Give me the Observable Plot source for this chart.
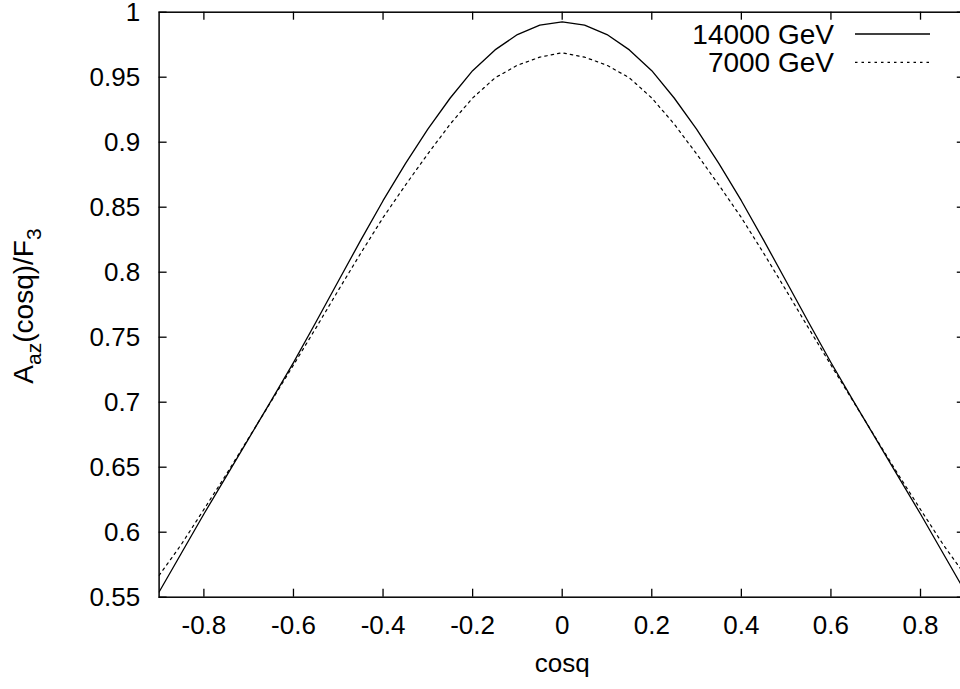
<!DOCTYPE html>
<html>
<head>
<meta charset="utf-8">
<script src="https://cdn.jsdelivr.net/npm/d3@7"></script>
<script src="https://cdn.jsdelivr.net/npm/@observablehq/plot@0.6"></script>
<style>
  html, body { margin: 0; padding: 0; background: #ffffff; }
  #chart svg { display: block; }
</style>
</head>
<body>
<div id="chart"></div>
<script>
// ---- data ----
const cosTheta = [-0.9,-0.85,-0.8,-0.75,-0.7,-0.65,-0.6,-0.55,-0.5,-0.45,-0.4,-0.35,-0.3,-0.25,-0.2,-0.15,-0.1,-0.05,
                  0,0.05,0.1,0.15,0.2,0.25,0.3,0.35,0.4,0.45,0.5,0.55,0.6,0.65,0.7,0.75,0.8,0.85,0.9];
const a14000 = [0.554,0.584,0.614,0.643,0.672,0.701,0.7305,0.7615,0.793,0.8245,0.855,0.8835,0.910,0.934,0.955,0.971,0.9828,0.990,
                0.9926,0.990,0.9828,0.971,0.955,0.934,0.910,0.8835,0.855,0.8245,0.793,0.7615,0.7305,0.701,0.672,0.643,0.614,0.584,0.554];
const a7000  = [0.5667,0.5908,0.6175,0.6445,0.6725,0.7005,0.7286,0.757,0.786,0.8145,0.842,0.867,0.891,0.914,0.934,0.9495,0.9592,0.9654,
                0.9688,0.9654,0.9592,0.9495,0.934,0.914,0.891,0.867,0.842,0.8145,0.786,0.757,0.7286,0.7005,0.6725,0.6445,0.6175,0.5908,0.5667];
const seriesNames = ["14000 GeV", "7000 GeV"];
const xTicks = [-0.8,-0.6,-0.4,-0.2,0,0.2,0.4,0.6,0.8];
const xTickLabels = ["-0.8","-0.6","-0.4","-0.2","0","0.2","0.4","0.6","0.8"];
const yTicks = [0.55,0.6,0.65,0.7,0.75,0.8,0.85,0.9,0.95,1];
const yTickLabels = ["0.55","0.6","0.65","0.7","0.75","0.8","0.85","0.9","0.95","1"];
const xLabel = "cosq";
const yLabelParts = [["A",""],["az","sub"],["(cosq)/F",""],["3","sub"]];

// ---- build table ----
const rows = [];
cosTheta.forEach((c, i) => {
  rows.push({x: c, y: a14000[i], s: seriesNames[0]});
  rows.push({x: c, y: a7000[i], s: seriesNames[1]});
});
const xFmt = new Map(xTicks.map((t, i) => [t, xTickLabels[i]]));
const yFmt = new Map(yTicks.map((t, i) => [t, yTickLabels[i]]));

const W = 960, H = 689;
const mL = 158.6, mR = -4.8, mT = 11.7, mB = 92.3;
const frameH = H - mT - mB, frameW = W - mL - mR;
const tickLen = 8;
const font = "'Liberation Sans', Arial, Helvetica, sans-serif";

const plot = Plot.plot({
  width: W,
  height: H,
  marginLeft: mL,
  marginRight: mR,
  marginTop: mT,
  marginBottom: mB,
  style: {fontFamily: font, fontSize: "26px", color: "black", background: "white"},
  x: {domain: [-0.9, 0.9]},
  y: {domain: [0.55, 1]},
  marks: [
    Plot.axisX(xTicks, {anchor: "bottom", tickSize: 0, tickPadding: 18, tickFormat: d => xFmt.get(d), label: null, fontSize: 26}),
    Plot.axisY(yTicks, {anchor: "left", tickSize: 0, tickPadding: 19, tickFormat: d => yFmt.get(d), label: null, fontSize: 26}),
    // inward ticks (bottom, top, left, right)
    Plot.tickX(xTicks, {x: d => d, insetTop: frameH - tickLen, stroke: "black", strokeWidth: 1.3}),
    Plot.tickX(xTicks, {x: d => d, insetBottom: frameH - tickLen, stroke: "black", strokeWidth: 1.3}),
    Plot.tickY(yTicks, {y: d => d, insetRight: frameW - tickLen, stroke: "black", strokeWidth: 1.3}),
    Plot.tickY(yTicks, {y: d => d, insetLeft: frameW - tickLen, stroke: "black", strokeWidth: 1.3}),
    Plot.line(rows.filter(d => d.s === seriesNames[0]), {x: "x", y: "y", stroke: "black", strokeWidth: 1.3, clip: true}),
    Plot.line(rows.filter(d => d.s === seriesNames[1]), {x: "x", y: "y", stroke: "black", strokeWidth: 1.2, strokeDasharray: "2.5,4", clip: true}),
    Plot.text([xLabel], {frameAnchor: "bottom", dy: 75, text: d => d, fontSize: 26}),
    Plot.frame({stroke: "black", strokeWidth: 1.5})
  ]
});

const svg = d3.select(plot);

// y-axis label with subscripts
const yl = svg.append("text")
  .attr("transform", `translate(33,306) rotate(-90)`)
  .attr("text-anchor", "middle")
  .attr("font-family", font)
  .attr("font-size", 28)
  .attr("fill", "black");
yLabelParts.forEach(([t, kind], i) => {
  const prevSub = i > 0 && yLabelParts[i - 1][1] === "sub";
  const ts = yl.append("tspan").text(t);
  if (kind === "sub") ts.attr("font-size", 21).attr("dy", 8);
  else if (prevSub) ts.attr("dy", -8);
});

// legend (inside top-right, gnuplot style)
const leg = svg.append("g").attr("font-family", font).attr("font-size", 28).attr("fill", "black");
seriesNames.forEach((name, i) => {
  const cy = 34 + i * 28.3;
  leg.append("text").attr("x", 834).attr("y", cy + 10).attr("text-anchor", "end").text(name);
  const ln = leg.append("line").attr("x1", 855).attr("x2", 930).attr("y1", cy).attr("y2", cy)
    .attr("stroke", "black").attr("stroke-width", i === 0 ? 1.3 : 1.2);
  if (i === 1) ln.attr("stroke-dasharray", "2.5,4");
});

document.getElementById("chart").appendChild(plot);
</script>
</body>
</html>
